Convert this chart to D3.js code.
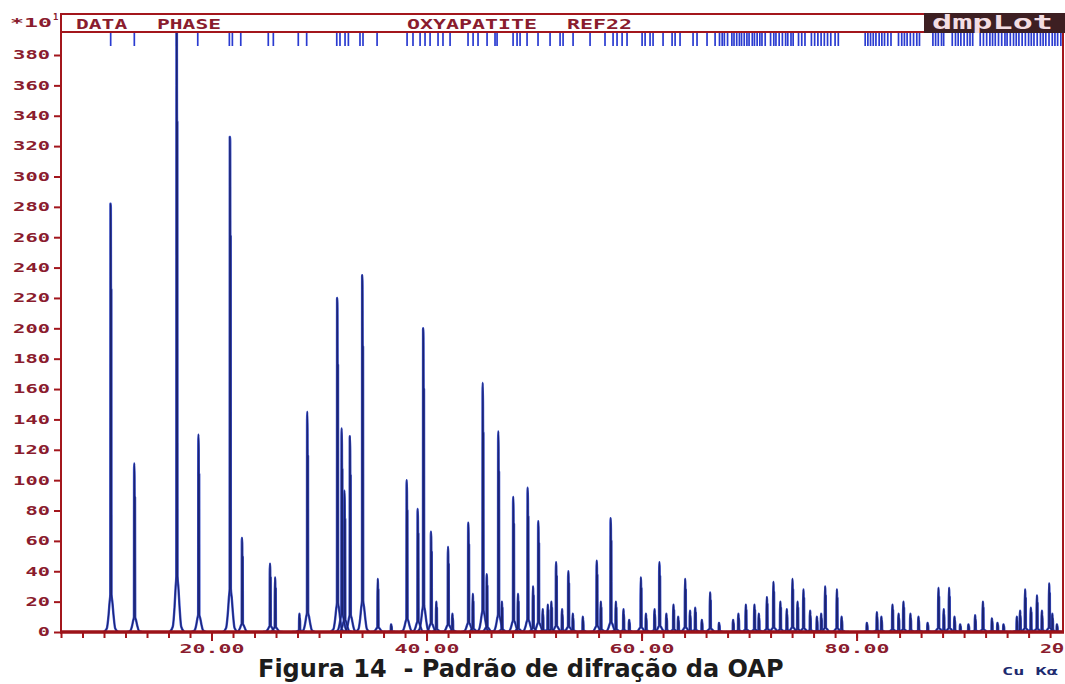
<!DOCTYPE html>
<html><head><meta charset="utf-8">
<script src="https://cdn.jsdelivr.net/npm/d3@7"></script>
<style>
html,body{margin:0;padding:0;background:#fff;}
svg{display:block;}
</style></head>
<body>
<script>
// ---- data ----
// peak positions (2θ, degrees) and heights (counts ×10¹)
const peakPos = [10.62,12.82,16.76,18.79,21.72,22.84,25.44,25.91,28.17,28.91,31.70,32.11,32.37,32.88,34.03,35.46,36.7,38.16,39.18,39.70,40.42,40.9,42.00,42.4,43.89,44.3,45.23,45.6,46.68,47.0,48.07,48.5,49.41,49.9,50.40,50.8,51.27,51.6,52.05,52.6,53.19,53.6,54.53,55.83,56.2,57.13,57.6,58.31,58.84,59.93,60.4,61.2,61.66,62.3,62.96,63.4,64.05,64.5,64.98,65.6,66.37,67.2,68.51,69.00,69.69,70.49,70.9,71.65,72.26,72.9,73.5,74.03,74.5,75.05,75.67,76.30,76.7,77.07,78.16,78.6,80.95,81.88,82.3,83.33,83.9,84.35,85.0,85.75,86.6,87.61,88.1,88.60,89.1,89.63,90.4,91.02,91.74,92.58,93.1,93.66,94.90,95.2,95.67,96.2,96.77,97.23,97.91,98.2,98.63];
const peakH   = [282,111,420,130,326,62,45,36,12,145,220,134,93,129,235,35,5,100,81,200,66,20,56,12,72,25,164,38,132,20,89,25,95,30,73,15,18,20,46,15,40,12,10,47,20,75,20,15,8,36,12,15,46,12,18,10,35,14,16,8,26,6,8,12,18,18,12,23,33,20,15,35,20,28,14,10,12,30,28,10,6,13,10,18,12,20,12,10,6,29,15,29,10,5,5,11,20,9,6,5,10,14,28,16,24,14,32,12,5];
// reference reflection markers of the OXYAPATITE phase (2θ)
const reflections = [10.62,12.82,16.76,18.72,21.66,21.94,22.72,25.28,25.75,28.07,28.85,31.65,31.95,32.42,32.73,
 33.81,34.09,35.40,38.19,38.74,39.40,39.86,40.33,41.07,41.53,42.19,43.86,44.33,44.79,45.63,46.37,46.56,48.05,48.42,48.70,49.35,50.37,51.49,52.42,52.70,53.63,55.21,56.60,57.35,57.72,58.19,58.65,60.05,60.33,60.79,61.07,62.00,62.84,63.12,63.58,64.79,65.16,66.09,66.84,
 67.25,67.5,67.7,68.0,68.4,68.6,68.85,69.1,69.3,69.55,69.8,70.0,70.3,70.5,70.75,71.0,71.2,71.5,72.0,72.3,72.5,72.8,73.1,73.4,73.6,73.9,74.1,74.6,74.9,75.2,75.8,76.1,76.4,76.7,77.0,77.3,77.6,78.0,78.3,
 80.8,81.05,81.3,81.55,81.8,82.1,82.35,82.6,82.9,83.2,83.9,84.2,84.45,84.7,85.0,85.3,85.6,85.85,
 87.1,87.35,87.6,87.9,88.1,88.9,89.2,89.45,89.7,90.0,90.3,90.55,90.8,91.5,91.8,92.1,92.4,92.65,92.9,93.2,93.5,93.8,94.0,94.3,94.6,94.85,95.1,95.4,95.7,96.0,96.25,96.5,96.8,97.1,97.35,97.6,97.9,98.2,98.45,98.7,99.0];
const yTicks = [0,20,40,60,80,100,120,140,160,180,200,220,240,260,280,300,320,340,360,380];
const xMinorTicks = [6,8,10,12,14,16,18,20,22,24,26,28,30,32,34,36,38,40,42,44,46,48,50,52,54,56,58,60,62,64,66,68,70,72,74,76,78,80,82,84,86,88,90,92,94,96,98];
const xMajorTicks = [20,40,60,80];
const headerLeft = ["DATA","PHASE"];
const headerPhase = ["OXYAPATITE","REF22"];

// ---- drawing ----
const W = 1065, H = 684;
const RED = "#a3161c", LAB = "#8a1c2e";
const svg = d3.select("body").append("svg").attr("width", W).attr("height", H);
const x = d3.scaleLinear().domain([6, 99.2]).range([61, 1063]);
const y = d3.scaleLinear().domain([0, 380]).range([632, 55]);
const monoFont = "'DejaVu Sans Mono', 'Liberation Mono', monospace";

svg.append("defs").append("clipPath").attr("id", "plotclip")
  .append("rect").attr("x", 61).attr("y", 33).attr("width", 1002).attr("height", 599);

// reflection markers
svg.append("g").attr("clip-path", "url(#plotclip)")
  .selectAll("line").data(reflections).join("line")
  .attr("x1", d => x(d)).attr("x2", d => x(d))
  .attr("y1", 33).attr("y2", 46)
  .attr("stroke", "#2a3bd0").attr("stroke-width", 1.7);

// peaks
const line = d3.line().x(d => x(d[0])).y(d => y(d[1])).curve(d3.curveMonotoneX);
function glyph(p, h) {
  const b = 0.07 * h;
  return [[p-0.65,0],[p-0.36,b*0.12],[p-0.2,b*0.55],[p-0.1,b],[p-0.035,b*1.25],[p-0.02,h],[p+0.015,h],
          [p+0.03,0.8*h],[p+0.065,0.8*h],[p+0.08,b*1.25],[p+0.16,b],[p+0.27,b*0.55],[p+0.42,b*0.12],[p+0.7,0]];
}
const peaks = peakPos.map((p, i) => glyph(p, peakH[i]));
const pg = svg.append("g").attr("clip-path", "url(#plotclip)");
pg.selectAll("path.a").data(peaks).join("path").attr("class","a")
  .attr("d", line).attr("fill", "none").attr("stroke", "#3a4fc8").attr("stroke-width", 2.4).attr("stroke-linejoin","round");
pg.selectAll("path.b").data(peaks).join("path").attr("class","b")
  .attr("d", line).attr("fill", "none").attr("stroke", "#1b2370").attr("stroke-width", 1.1).attr("stroke-linejoin","round");

// frame
svg.append("line").attr("x1", 61).attr("x2", 925).attr("y1", 14).attr("y2", 14).attr("stroke", RED).attr("stroke-width", 2);
svg.append("line").attr("x1", 61).attr("x2", 1063).attr("y1", 32).attr("y2", 32).attr("stroke", RED).attr("stroke-width", 2);
svg.append("line").attr("x1", 61).attr("x2", 61).attr("y1", 13).attr("y2", 633).attr("stroke", RED).attr("stroke-width", 2);
svg.append("line").attr("x1", 1063).attr("x2", 1063).attr("y1", 32).attr("y2", 633).attr("stroke", RED).attr("stroke-width", 2);

// dmplot badge
svg.append("rect").attr("x", 924).attr("y", 13).attr("width", 141).attr("height", 20).attr("fill", "#3d1f22");
svg.append("text").attr("x", 932).attr("y", 29).text("dmpLot")
  .attr("font-family", monoFont).attr("font-weight", "bold").attr("font-size", 19)
  .attr("fill", "#f3dde2").attr("textLength", 121).attr("lengthAdjust", "spacingAndGlyphs");

// header labels
function stretched(g, txt, xPos, yPos, size, perChar, fill) {
  return g.append("text").attr("x", xPos).attr("y", yPos).text(txt)
    .attr("font-family", monoFont).attr("font-weight", "bold").attr("font-size", size)
    .attr("fill", fill).attr("textLength", perChar * txt.length).attr("lengthAdjust", "spacingAndGlyphs");
}
stretched(svg, headerLeft[0], 76, 29, 14, 12.8, LAB);
stretched(svg, headerLeft[1], 157, 29, 14, 12.8, LAB);
stretched(svg, headerPhase[0], 407, 29, 14, 13, LAB);
stretched(svg, headerPhase[1], 567, 29, 14, 13, LAB);

// y axis
const ya = svg.append("g").attr("transform", "translate(61,0)")
  .call(d3.axisLeft(y).tickValues(yTicks).tickSize(7).tickPadding(4).tickFormat(d => String(d)));
ya.select(".domain").remove();
ya.selectAll("line").attr("stroke", RED).attr("stroke-width", 2);
ya.selectAll("text").attr("font-family", monoFont).attr("font-weight", "bold").attr("font-size", 12)
  .attr("fill", LAB).each(function(d){ d3.select(this).attr("textLength", String(d).length * 12.3).attr("lengthAdjust","spacingAndGlyphs"); });
// multiplier
stretched(svg, "*10", 10, 27, 12, 14, LAB);
svg.append("text").attr("x", 53).attr("y", 20).text("1").attr("font-family", monoFont)
  .attr("font-weight", "bold").attr("font-size", 9).attr("fill", LAB);

// x axis
const xm = svg.append("g").attr("transform", "translate(0,632)")
  .call(d3.axisBottom(x).tickValues(xMinorTicks).tickSize(6).tickFormat(""));
xm.select(".domain").remove();
xm.selectAll("line").attr("stroke", RED).attr("stroke-width", 2);
const xM = svg.append("g").attr("transform", "translate(0,632)")
  .call(d3.axisBottom(x).tickValues(xMajorTicks).tickSize(9).tickPadding(3).tickFormat(d3.format(".2f")));
xM.select(".domain").remove();
xM.selectAll("line").attr("stroke", RED).attr("stroke-width", 2);
xM.selectAll("text").attr("font-family", monoFont).attr("font-weight", "bold").attr("font-size", 13)
  .attr("fill", LAB).attr("textLength", 65).attr("lengthAdjust", "spacingAndGlyphs");
svg.append("line").attr("x1", 60).attr("x2", 1064).attr("y1", 632).attr("y2", 632).attr("stroke", "#9c1218").attr("stroke-width", 3.5);
stretched(svg, "2θ", 1040, 653, 13, 12, LAB);

// caption
svg.append("text").attr("x", 258).attr("y", 677).text("Figura 14  - Padrão de difração da OAP")
  .attr("font-family", "'DejaVu Sans', Verdana, sans-serif").attr("font-weight", "bold").attr("font-size", 24)
  .attr("fill", "#1c1c1c").style("white-space", "pre");
svg.append("text").attr("x", 1002).attr("y", 675).text("Cu Kα")
  .attr("font-family", monoFont).attr("font-weight", "bold").attr("font-size", 11)
  .attr("fill", "#1d2a70").attr("textLength", 56).attr("lengthAdjust", "spacingAndGlyphs").style("white-space", "pre");
</script>
</body></html>
